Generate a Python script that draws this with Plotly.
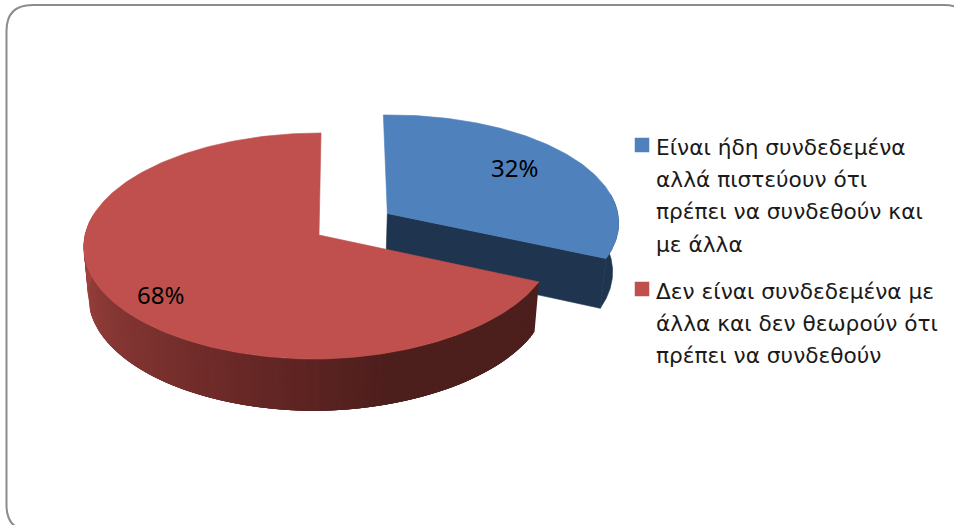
import numpy as np
import plotly.graph_objects as go

# Values
categories = [
    ["Είναι ήδη συνδεδεμένα", "αλλά πιστεύουν ότι", "πρέπει να συνδεθούν και", "με άλλα"],
    ["Δεν είναι συνδεδεμένα με", "άλλα και δεν θεωρούν ότι", "πρέπει να συνδεθούν"],
]
shares = [32, 68]
labels = ["32%", "68%"]
explode = [0.35, 0.0]
top_colors = ["#4F81BD", "#BF504D"]

FONT = "Noto Sans"
LEGEND_FONT = "DejaVu Sans"
DARK_BLUE = "#1F344F"
SHADE_STOPS = [(0.0, (168, 72, 68)), (0.52, (104, 40, 38)), (0.72, (76, 30, 28)), (1.0, (76, 30, 28))]

# Camera used for the tilted pie, in pixels of the 954x525 picture
X0, Y0 = 319, 235
R, H = 234, 112
PERSPECTIVE = 0.0975
DEPTH = 49
SHRINK = 0.02
LEAN_X = 0.02  # back of the pie sits slightly to the right
LEAN_Y = 0.013  # right side of the pie sits slightly higher


def project(u, v, z=0.0):
    """Pie plane (u right, v back, z down 0..1) to picture pixels."""
    s = 1 / (1 + PERSPECTIVE * v)
    scale = 1 - SHRINK * z
    dx = R * u * s * scale
    dy = H * v * s * scale
    return X0 + dx + LEAN_X * dy, Y0 - dy + DEPTH * z * s - LEAN_Y * np.maximum(dx, 0)


def rim(start, end, cu, cv, z=0.0, n=120):
    ang = np.linspace(start, end, n)
    return project(cu + np.sin(ang), cv + np.cos(ang), z)


def polygon(xs, ys, color, width=0.6):
    return go.Scatter(
        x=list(xs),
        y=list(ys),
        mode="lines",
        fill="toself",
        fillcolor=color,
        line=dict(color=color, width=width),
        hoverinfo="skip",
        showlegend=False,
    )


def shade(t):
    for (t0, c0), (t1, c1) in zip(SHADE_STOPS, SHADE_STOPS[1:]):
        if t <= t1:
            f = (t - t0) / (t1 - t0)
            return "rgb(%d,%d,%d)" % tuple(a + (b - a) * f for a, b in zip(c0, c1))
    return "rgb(76,30,28)"


# Slice angles, clockwise from the back of the pie
total = sum(shares)
blue_end = 2 * np.pi * shares[0] / total
mid = blue_end / 2
blue_cu, blue_cv = explode[0] * np.sin(mid), explode[0] * np.cos(mid)

fig = go.Figure()

# Blue slice: cut face and rim first, top over them
ax, ay = project(blue_cu, blue_cv)
ex, ey = rim(blue_end, blue_end, blue_cu, blue_cv, n=1)
bx, by = project(blue_cu, blue_cv, 1)
fx, fy = rim(blue_end, blue_end, blue_cu, blue_cv, 1, n=1)
fig.add_trace(polygon([ax, ex[0], fx[0], bx, ax], [ay, ey[0], fy[0], by, ay], DARK_BLUE))
tx, ty = rim(0.5 * np.pi * 0.9, blue_end, blue_cu, blue_cv)
lx, ly = rim(0.5 * np.pi * 0.9, blue_end, blue_cu, blue_cv, 1)
fig.add_trace(polygon(np.r_[tx, lx[::-1]], np.r_[ty, ly[::-1]], DARK_BLUE))
tx, ty = rim(0, blue_end, blue_cu, blue_cv)
fig.add_trace(polygon(np.r_[ax, tx, ax], np.r_[ay, ty, ay], top_colors[0]))

# Red slice: rim in overlapping shaded strips (each one hides the seam of the last), then the top
edges = np.linspace(blue_end, 2 * np.pi * 0.78, 130)
for i in range(len(edges) - 1):
    stop = edges[min(i + 4, len(edges) - 1)]
    tx, ty = rim(edges[i], stop, 0, 0, n=8)
    lx, ly = rim(edges[i], stop, 0, 0, 1, n=8)
    t = (edges[-1] - edges[i]) / (edges[-1] - edges[0])
    fig.add_trace(polygon(np.r_[tx, lx[::-1]], np.r_[ty, ly[::-1]], shade(t), width=0))
ax, ay = project(0, 0)
tx, ty = rim(blue_end, 2 * np.pi, 0, 0, n=300)
fig.add_trace(polygon(np.r_[ax, tx, ax], np.r_[ay, ty, ay], top_colors[1]))

# Legend squares
fig.add_trace(
    go.Scatter(
        x=[642, 642],
        y=[145, 289],
        mode="markers",
        marker=dict(symbol="square", size=14.5, color=top_colors),
        hoverinfo="skip",
        showlegend=False,
    )
)

annotations = []
for text, x, y in zip(labels, [514, 160.5], [167, 294]):
    annotations.append(dict(x=x, y=y, text=text, showarrow=False, font=dict(family=FONT, size=24, color="#000000")))
for lines, y_start in zip(categories, [147, 291]):
    for i, line in enumerate(lines):
        annotations.append(
            dict(
                x=654,
                y=y_start + i * 32.4,
                text=line,
                showarrow=False,
                xanchor="left",
                font=dict(family=LEGEND_FONT, size=21.7, color="#1a1a1a"),
            )
        )

# Rounded frame, running off the right and bottom of the picture
L, T, RT, B, C = 6.5, 5, 970, 531, 26
frame = (
    f"M {L+C},{T} L {RT-C},{T} Q {RT},{T} {RT},{T+C} L {RT},{B-C} Q {RT},{B} {RT-C},{B} "
    f"L {L+C},{B} Q {L},{B} {L},{B-C} L {L},{T+C} Q {L},{T} {L+C},{T} Z"
)

fig.update_layout(
    width=954,
    height=525,
    margin=dict(l=0, r=0, t=0, b=0),
    paper_bgcolor="white",
    plot_bgcolor="white",
    xaxis=dict(range=[0, 954], visible=False, fixedrange=True),
    yaxis=dict(range=[525, 0], visible=False, fixedrange=True),
    shapes=[dict(type="path", path=frame, line=dict(color="#8c8c8c", width=2), layer="below")],
    annotations=annotations,
)

# the page's default body margin would push the picture 8px down and right
fig.write_html(
    "out.html",
    config={"displayModeBar": False},
    post_script="document.body.style.margin='0';document.body.style.overflow='hidden';",
)
